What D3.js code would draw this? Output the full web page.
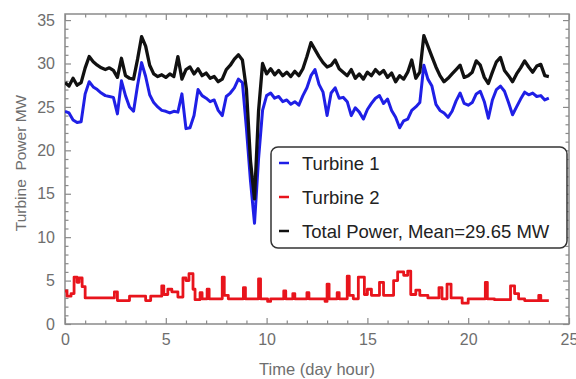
<!DOCTYPE html>
<html>
<head>
<meta charset="utf-8">
<script src="https://cdn.jsdelivr.net/npm/d3@7"></script>
<style>
  body { margin: 0; background: #fff; }
  svg { display: block; font-family: "Liberation Sans", Arial, sans-serif; }
</style>
</head>
<body>
<svg id="chart" width="576" height="379"></svg>
<script>
// sample times (hours), one every 12 minutes
var hours = [
  0,0.2,0.4,0.6,0.8,1,1.2,1.4,1.6,1.8,
  2,2.2,2.4,2.6,2.8,3,3.2,3.4,3.6,3.8,
  4,4.2,4.4,4.6,4.8,5,5.2,5.4,5.6,5.8,
  6,6.2,6.4,6.6,6.8,7,7.2,7.4,7.6,7.8,
  8,8.2,8.4,8.6,8.8,9,9.2,9.4,9.6,9.8,
  10,10.2,10.4,10.6,10.8,11,11.2,11.4,11.6,11.8,
  12,12.2,12.4,12.6,12.8,13,13.2,13.4,13.6,13.8,
  14,14.2,14.4,14.6,14.8,15,15.2,15.4,15.6,15.8,
  16,16.2,16.4,16.6,16.8,17,17.2,17.4,17.6,17.8,
  18,18.2,18.4,18.6,18.8,19,19.2,19.4,19.6,19.8,
  20,20.2,20.4,20.6,20.8,21,21.2,21.4,21.6,21.8,
  22,22.2,22.4,22.6,22.8,23,23.2,23.4,23.6,23.8,
  24
];

var turbine1 = [
  24.5,24.3,23.5,23.2,23.3,26.5,27.9,27.3,27.0,26.6,
  26.3,26.2,26.1,24.2,28.0,26.3,25.0,24.5,27.5,30.1,
  28.5,26.4,25.5,25.0,24.6,24.5,24.3,24.5,24.4,26.5,
  22.5,22.6,24.0,27.0,26.3,26.0,25.6,25.8,24.6,24.0,
  26.2,26.6,27.2,28.2,27.8,22.5,16.5,11.6,19.0,24.6,
  26.3,26.6,26.0,26.2,25.6,25.8,25.3,25.6,25.2,26.3,
  27.2,28.6,29.3,27.6,26.7,24.0,26.6,27.2,26.0,26.1,
  25.6,24.0,24.9,24.4,23.6,24.7,25.4,26.0,26.3,25.4,
  25.9,24.6,23.8,22.6,23.4,23.6,24.6,25.0,25.5,29.8,
  28.2,27.4,25.3,24.6,24.3,23.8,24.5,25.7,26.6,25.4,
  25.2,25.5,26.5,26.8,25.6,23.7,25.8,27.0,27.4,26.8,
  25.5,24.1,25.0,25.9,26.7,26.4,26.6,26.2,26.3,25.8,
  26.0
];

var totalPower = [
  27.8,27.4,28.3,27.5,27.8,29.5,30.8,30.2,29.8,29.5,
  29.3,29.5,29.2,28.4,30.6,28.6,28.3,28.2,30.5,33.1,
  32.0,29.8,28.8,28.5,28.7,28.4,28.8,28.5,30.8,28.2,
  29.3,29.6,28.8,29.4,28.6,28.9,28.3,28.5,27.9,28.2,
  29.3,29.8,30.5,31.0,30.4,27.0,18.8,14.4,24.5,30.0,
  28.8,29.4,28.7,29.2,28.6,29.0,28.5,29.1,28.6,29.4,
  30.8,32.4,31.6,30.8,30.1,29.6,29.8,30.4,29.4,29.0,
  28.6,29.3,28.3,28.8,28.2,29.0,28.6,29.3,28.8,29.2,
  28.4,28.9,27.9,28.6,28.2,29.0,30.4,28.3,29.0,33.2,
  32.0,30.8,29.6,28.6,27.9,28.3,28.8,29.3,29.8,28.4,
  28.6,29.0,30.3,29.8,28.4,27.7,29.0,30.2,30.7,29.2,
  28.6,27.9,28.8,29.5,30.3,29.6,29.0,29.7,29.9,28.6,
  28.5
];

// turbine 2 is mostly flat with short jumps, so it is kept as change points
var hours2 = [0,0.1,0.3,0.45,0.6,0.7,0.85,1.0,2.45,2.6,3.2,4.0,4.25,4.8,4.9,5.1,5.3,5.6,
  5.85,6.0,6.15,6.35,6.45,6.7,6.8,7.05,7.15,7.8,7.9,8.1,8.85,8.95,9.6,9.7,10.05,10.2,
  10.85,10.95,11.3,11.4,12.0,12.1,12.9,13.0,13.1,13.5,13.6,14.0,14.1,14.3,14.55,14.85,
  15.0,15.2,15.6,15.8,16.3,16.5,16.8,17.0,17.15,17.4,17.6,18.0,18.55,18.7,18.95,19.15,
  19.7,20.0,20.85,20.95,21.3,22.1,22.3,22.5,22.8,23.5,23.6,24.0];
var turbine2 = [3.8,3.2,3.5,5.4,4.8,5.3,4.3,3.0,3.7,2.7,3.2,2.7,3.2,4.4,3.4,4.0,3.7,3.1,
  5.3,5.0,5.8,4.0,2.8,3.6,2.9,4.0,2.9,5.4,3.3,2.9,4.2,2.9,5.2,2.9,2.6,2.9,
  3.8,2.9,3.5,2.9,3.6,2.9,2.6,4.6,2.9,3.6,2.9,5.5,3.3,2.9,5.4,3.4,
  4.0,3.3,4.8,3.3,5.0,6.0,5.6,6.1,3.4,3.9,3.3,3.0,4.2,2.9,4.6,3.0,
  2.4,2.9,4.8,2.9,2.8,4.4,3.5,2.9,2.7,3.3,2.7,2.7];

var xMajor = [0, 5, 10, 15, 20, 25];
var yMajor = [0, 5, 10, 15, 20, 25, 30, 35];
var legendNames = ["Turbine 1", "Turbine 2", "Total Power, Mean=29.65 MW"];
var colors = ["#1f1fe6", "#e8141c", "#111111"];

var svg = d3.select("#chart");
// (plotTop, not "top": window.top can't be overwritten)
var plotLeft = 65, plotRight = 569, plotTop = 14, plotBottom = 324;

var x = d3.scaleLinear().domain([0, 25]).range([plotLeft, plotRight]);
var y = d3.scaleLinear().domain([0, 35.7]).range([plotBottom, plotTop]);

var grey = "#8a8a8a";
var labelColor = "#6e6e6e";

svg.append("clipPath").attr("id", "plotClip")
  .append("rect")
  .attr("x", plotLeft).attr("y", plotTop)
  .attr("width", plotRight - plotLeft).attr("height", plotBottom - plotTop);

// ticks on all four sides, pointing inwards
function styleAxis(g) {
  g.select(".domain").remove();
  g.selectAll(".tick line").attr("stroke", grey).attr("stroke-width", 1.2);
  g.selectAll(".tick text").attr("fill", labelColor).attr("font-size", "16px")
    .attr("font-family", "Liberation Sans, Arial, sans-serif");
}

var xMinor = d3.range(0, 25).filter(function(d) { return d % 5 != 0; });
var yMinor = d3.range(0, 36).filter(function(d) { return d % 5 != 0; });

svg.append("g").attr("transform", "translate(0," + plotBottom + ")")
  .call(d3.axisBottom(x).tickValues(xMajor).tickSize(-6).tickPadding(9.5).tickFormat(d3.format("d")))
  .call(styleAxis);
svg.append("g").attr("transform", "translate(0," + plotBottom + ")")
  .call(d3.axisBottom(x).tickValues(xMinor).tickSize(-3.5).tickFormat(""))
  .call(styleAxis);
svg.append("g").attr("transform", "translate(0," + plotTop + ")")
  .call(d3.axisTop(x).tickValues(xMajor).tickSize(-6).tickFormat(""))
  .call(styleAxis);
svg.append("g").attr("transform", "translate(0," + plotTop + ")")
  .call(d3.axisTop(x).tickValues(xMinor).tickSize(-3.5).tickFormat(""))
  .call(styleAxis);

svg.append("g").attr("transform", "translate(" + plotLeft + ",0)")
  .call(d3.axisLeft(y).tickValues(yMajor).tickSize(-6).tickPadding(10).tickFormat(d3.format("d")))
  .call(styleAxis);
svg.append("g").attr("transform", "translate(" + plotLeft + ",0)")
  .call(d3.axisLeft(y).tickValues(yMinor).tickSize(-3.5).tickFormat(""))
  .call(styleAxis);
svg.append("g").attr("transform", "translate(" + plotRight + ",0)")
  .call(d3.axisRight(y).tickValues(yMajor).tickSize(-6).tickFormat(""))
  .call(styleAxis);
svg.append("g").attr("transform", "translate(" + plotRight + ",0)")
  .call(d3.axisRight(y).tickValues(yMinor).tickSize(-3.5).tickFormat(""))
  .call(styleAxis);

// frame
svg.append("rect")
  .attr("x", plotLeft).attr("y", plotTop)
  .attr("width", plotRight - plotLeft).attr("height", plotBottom - plotTop)
  .attr("fill", "none").attr("stroke", grey).attr("stroke-width", 1.5);

// series
var plot = svg.append("g").attr("clip-path", "url(#plotClip)");

var line = d3.line()
  .x(function(d) { return x(d[0]); })
  .y(function(d) { return y(d[1]); });

var stepLine = d3.line()
  .curve(d3.curveStepAfter)
  .x(function(d) { return x(d[0]); })
  .y(function(d) { return y(d[1]); });

plot.append("path")
  .datum(d3.zip(hours, turbine1))
  .attr("d", line)
  .attr("fill", "none").attr("stroke", colors[0])
  .attr("stroke-width", 3).attr("stroke-linejoin", "round");

plot.append("path")
  .datum(d3.zip(hours2, turbine2))
  .attr("d", stepLine)
  .attr("fill", "none").attr("stroke", colors[1])
  .attr("stroke-width", 2.8).attr("stroke-linejoin", "round");

plot.append("path")
  .datum(d3.zip(hours, totalPower))
  .attr("d", line)
  .attr("fill", "none").attr("stroke", colors[2])
  .attr("stroke-width", 3.3).attr("stroke-linejoin", "round");

// axis titles
svg.append("text")
  .attr("x", 317).attr("y", 375)
  .attr("text-anchor", "middle")
  .attr("font-size", "16.5px").attr("fill", labelColor)
  .text("Time (day hour)");

svg.append("text")
  .attr("transform", "translate(26,163) rotate(-90)")
  .attr("text-anchor", "middle")
  .attr("font-size", "15.5px").attr("fill", labelColor)
  .attr("xml:space", "preserve")
  .text("Turbine  Power MW");

// legend
var legend = svg.append("g");
legend.append("rect")
  .attr("x", 271).attr("y", 147)
  .attr("width", 296).attr("height", 101)
  .attr("rx", 7)
  .attr("fill", "#fff").attr("stroke", "#333").attr("stroke-width", 1.5);

var items = legend.selectAll("g.item")
  .data(legendNames)
  .enter().append("g")
  .attr("class", "item")
  .attr("transform", function(d, i) { return "translate(0," + (163 + i * 34) + ")"; });

items.append("line")
  .attr("x1", 279).attr("x2", 289)
  .attr("y1", 0).attr("y2", 0)
  .attr("stroke", function(d, i) { return colors[i]; })
  .attr("stroke-width", 2.5);

items.append("text")
  .attr("x", 302).attr("y", 7)
  .attr("font-size", "18.5px").attr("fill", "#222")
  .text(function(d) { return d; });
</script>
</body>
</html>
